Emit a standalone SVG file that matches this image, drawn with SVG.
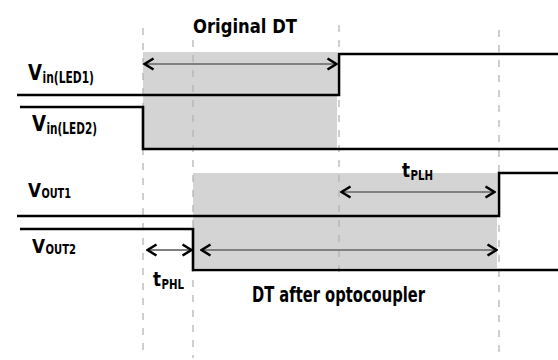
<svg xmlns="http://www.w3.org/2000/svg" width="558" height="360" viewBox="0 0 558 360">
  <style>
    .bg { fill: #ffffff; }
    .box { fill: #d4d4d4; stroke: none; }
    .grid { stroke: #b4b4b4; stroke-width: 1.3; stroke-dasharray: 7 8; fill: none; }
    .sig { stroke: #000000; stroke-width: 2.6; fill: none; stroke-linejoin: miter; }
    .dim { stroke: #808080; stroke-width: 2; fill: none; marker-start: url(#chev); marker-end: url(#chev); }
    .lbl { font-family: "DejaVu Sans Condensed", "DejaVu Sans", "Liberation Sans", sans-serif; font-weight: bold; fill: #000000; }
  </style>
  <defs>
    <marker id="chev" viewBox="0 0 12 14" refX="11" refY="7" markerWidth="12" markerHeight="14" markerUnits="userSpaceOnUse" orient="auto-start-reverse">
      <path d="M1.5,1.5 L10.5,7 L1.5,12.5" fill="none" stroke="#000000" stroke-width="2.6"/>
    </marker>
  </defs>
  <rect class="bg" x="0" y="0" width="558" height="360"/>

  <g id="shading">
    <rect class="box" x="143" y="52" width="194" height="96"/>
    <rect class="box" x="193" y="173" width="304" height="95"/>
  </g>

  <g id="gridlines">
    <line class="grid" x1="143" y1="28" x2="143" y2="358"/>
    <line class="grid" x1="193" y1="40" x2="193" y2="358"/>
    <line class="grid" x1="339" y1="25" x2="339" y2="276"/>
    <line class="grid" x1="499" y1="30" x2="499" y2="358"/>
  </g>

  <g id="signals">
    <path id="vin-led1" class="sig" d="M17,95 H339 V54 H558"/>
    <path id="vin-led2" class="sig" d="M20,107 H143 V149 H558"/>
    <path id="vout1" class="sig" d="M17,216 H499 V173 H558"/>
    <path id="vout2" class="sig" d="M20,229 H193 V270 H558"/>
  </g>

  <g id="connectors">
    <line class="dim" x1="144" y1="64" x2="337" y2="64"/>
    <line class="dim" x1="341" y1="192" x2="495" y2="192"/>
    <line class="dim" x1="201" y1="250" x2="497" y2="250"/>
    <line class="dim" x1="147" y1="250" x2="192" y2="250"/>
  </g>

  <g id="label-original-dt">
    <text class="lbl" x="193" y="33" font-size="20" textLength="104" lengthAdjust="spacingAndGlyphs">Original DT</text>
  </g>
  <g id="label-vin-led1">
    <text class="lbl" x="28" y="80" font-size="22" textLength="14" lengthAdjust="spacingAndGlyphs">V</text>
    <text class="lbl" x="42.5" y="83" font-size="15" textLength="51.5" lengthAdjust="spacingAndGlyphs">in(LED1)</text>
  </g>
  <g id="label-vin-led2">
    <text class="lbl" x="32" y="131" font-size="22" textLength="14" lengthAdjust="spacingAndGlyphs">V</text>
    <text class="lbl" x="46.5" y="134" font-size="15" textLength="50.5" lengthAdjust="spacingAndGlyphs">in(LED2)</text>
  </g>
  <g id="label-vout1">
    <text class="lbl" x="28" y="197" font-size="20" textLength="13" lengthAdjust="spacingAndGlyphs">V</text>
    <text class="lbl" x="41.5" y="198" font-size="14" textLength="29.5" lengthAdjust="spacingAndGlyphs">OUT1</text>
  </g>
  <g id="label-vout2">
    <text class="lbl" x="32" y="253" font-size="20" textLength="13" lengthAdjust="spacingAndGlyphs">V</text>
    <text class="lbl" x="45.5" y="254" font-size="14" textLength="30.5" lengthAdjust="spacingAndGlyphs">OUT2</text>
  </g>
  <g id="label-tphl">
    <text class="lbl" x="153" y="286" font-size="20" textLength="8" lengthAdjust="spacingAndGlyphs">t</text>
    <text class="lbl" x="161.5" y="289" font-size="14" textLength="22.5" lengthAdjust="spacingAndGlyphs">PHL</text>
  </g>
  <g id="label-tplh">
    <text class="lbl" x="402" y="177" font-size="20" textLength="8" lengthAdjust="spacingAndGlyphs">t</text>
    <text class="lbl" x="410.5" y="180" font-size="14" textLength="22.5" lengthAdjust="spacingAndGlyphs">PLH</text>
  </g>
  <g id="label-dt-after">
    <text class="lbl" x="252" y="302" font-size="21" textLength="173" lengthAdjust="spacingAndGlyphs">DT after optocoupler</text>
  </g>
</svg>
